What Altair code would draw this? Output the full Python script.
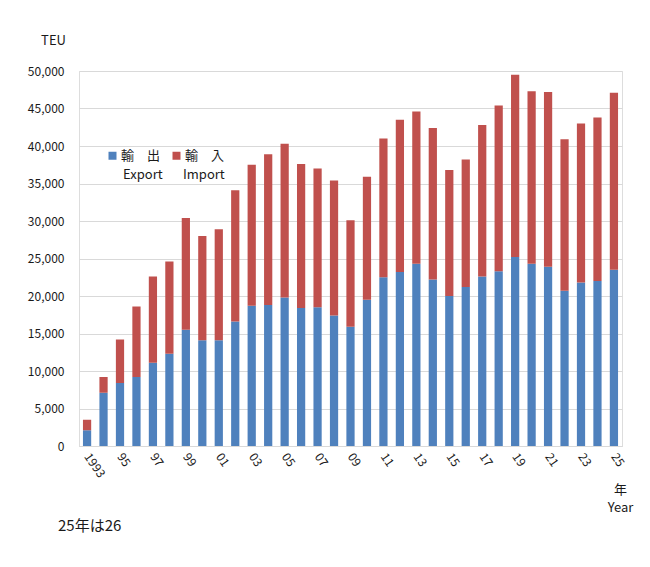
import json
import altair as alt
import pandas as pd

years = list(range(1993, 2026))
export_teu = [2100, 7100, 8400, 9200, 11100, 12300, 15500, 14100, 14100, 16600,
              18700, 18800, 19800, 18400, 18500, 17400, 15900, 19500, 22500, 23200,
              24300, 22200, 20000, 21200, 22600, 23300, 25200, 24300, 23900, 20700,
              21800, 22000, 23500]
import_teu = [1400, 2100, 5800, 9400, 11500, 12300, 14900, 13900, 14800, 17500,
              18800, 20100, 20500, 19200, 18500, 18000, 14200, 16400, 18500, 20300,
              20300, 20200, 16800, 17000, 20200, 22100, 24300, 23000, 23300, 20200,
              21200, 21800, 23600]
tick_labels = ["1993", "", "95", "", "97", "", "99", "", "01", "", "03", "", "05", "",
               "07", "", "09", "", "11", "", "13", "", "15", "", "17", "", "19", "",
               "21", "", "23", "", "25"]
series = ["輸出", "輸入"]
series_jp = {"輸出": "輸　出", "輸入": "輸　入"}
series_en = ["Export", "Import"]
colors = ["#4F81BD", "#C0504D"]
y_ticks = list(range(0, 50001, 5000))
note_text = "25年は26"

rows = []
for y, e, i in zip(years, export_teu, import_teu):
    rows.append({"year": y, "series": series[0], "ord": 0, "teu": e})
    rows.append({"year": y, "series": series[1], "ord": 1, "teu": i})
df = pd.DataFrame(rows)

label_map = json.dumps({str(y): t for y, t in zip(years, tick_labels)}, ensure_ascii=False)
legend_map = json.dumps(series_jp, ensure_ascii=False)

FONT = "Noto Sans CJK JP"
TXT = "#1a1a1a"

bars = alt.Chart(df).mark_bar().encode(
    x=alt.X("year:O",
            scale=alt.Scale(paddingInner=0.5, paddingOuter=0.24),
            axis=alt.Axis(
                title=["年", "Year"], titleX=541, titleY=37, titleAlign="center",
                titleAnchor="end", titleFontWeight="normal", titleFontSize=13,
                titleFont=FONT, titleColor=TXT, titleLineHeight=18,
                labelExpr=f"{label_map}[toString(datum.value)]",
                labelAngle=55, labelPadding=8, labelFontSize=12, labelFont=FONT,
                labelColor=TXT, ticks=False, domainColor="#d9d9d9", labelOverlap=False,
                labelBound=False, grid=False)),
    y=alt.Y("teu:Q",
            scale=alt.Scale(domain=[0, 50000], nice=False),
            stack="zero",
            axis=alt.Axis(
                title="TEU", titleAngle=0, titleX=-26, titleY=-31, titleAlign="center",
                titleBaseline="middle", titleFontWeight="normal", titleFontSize=13,
                titleFont=FONT, titleColor=TXT,
                values=y_ticks, format=",.0f", labelPadding=15, labelFontSize=12,
                labelFont=FONT, labelColor=TXT, ticks=False, domain=False,
                gridColor="#d9d9d9", gridWidth=1)),
    color=alt.Color("series:N",
                    scale=alt.Scale(domain=series, range=colors),
                    legend=alt.Legend(
                        title=None, orient="none", legendX=27, legendY=78,
                        direction="horizontal", symbolType="square", symbolSize=64,
                        symbolStrokeWidth=0, labelExpr=f"{legend_map}[datum.label]",
                        labelFontSize=13, labelFont=FONT, labelColor=TXT,
                        labelBaseline="middle", labelOffset=2,
                        columnPadding=9, padding=0)),
    order=alt.Order("ord:Q"),
)

# English second line of the legend labels
en_layers = []
for name, xpos in zip(series_en, [44, 104]):
    en_layers.append(
        alt.Chart(pd.DataFrame({"t": [name]})).mark_text(
            align="left", baseline="middle", fontSize=13, font=FONT, color=TXT
        ).encode(x=alt.value(xpos), y=alt.value(104), text="t:N")
    )

note = alt.Chart(pd.DataFrame({"t": [note_text]})).mark_text(
    align="left", baseline="middle", fontSize=15, font=FONT, color=TXT
).encode(x=alt.value(-21), y=alt.value(455), text="t:N")

chart = alt.layer(bars, note, *en_layers).properties(
    width=543, height=375,
    autosize=alt.AutoSizeParams(type="none"),
    padding={"left": 71, "top": 63, "right": 20, "bottom": 110},
).configure_view(stroke=None).configure(background="white")

chart.save("out.html", embed_options={"renderer": "svg", "actions": False})
